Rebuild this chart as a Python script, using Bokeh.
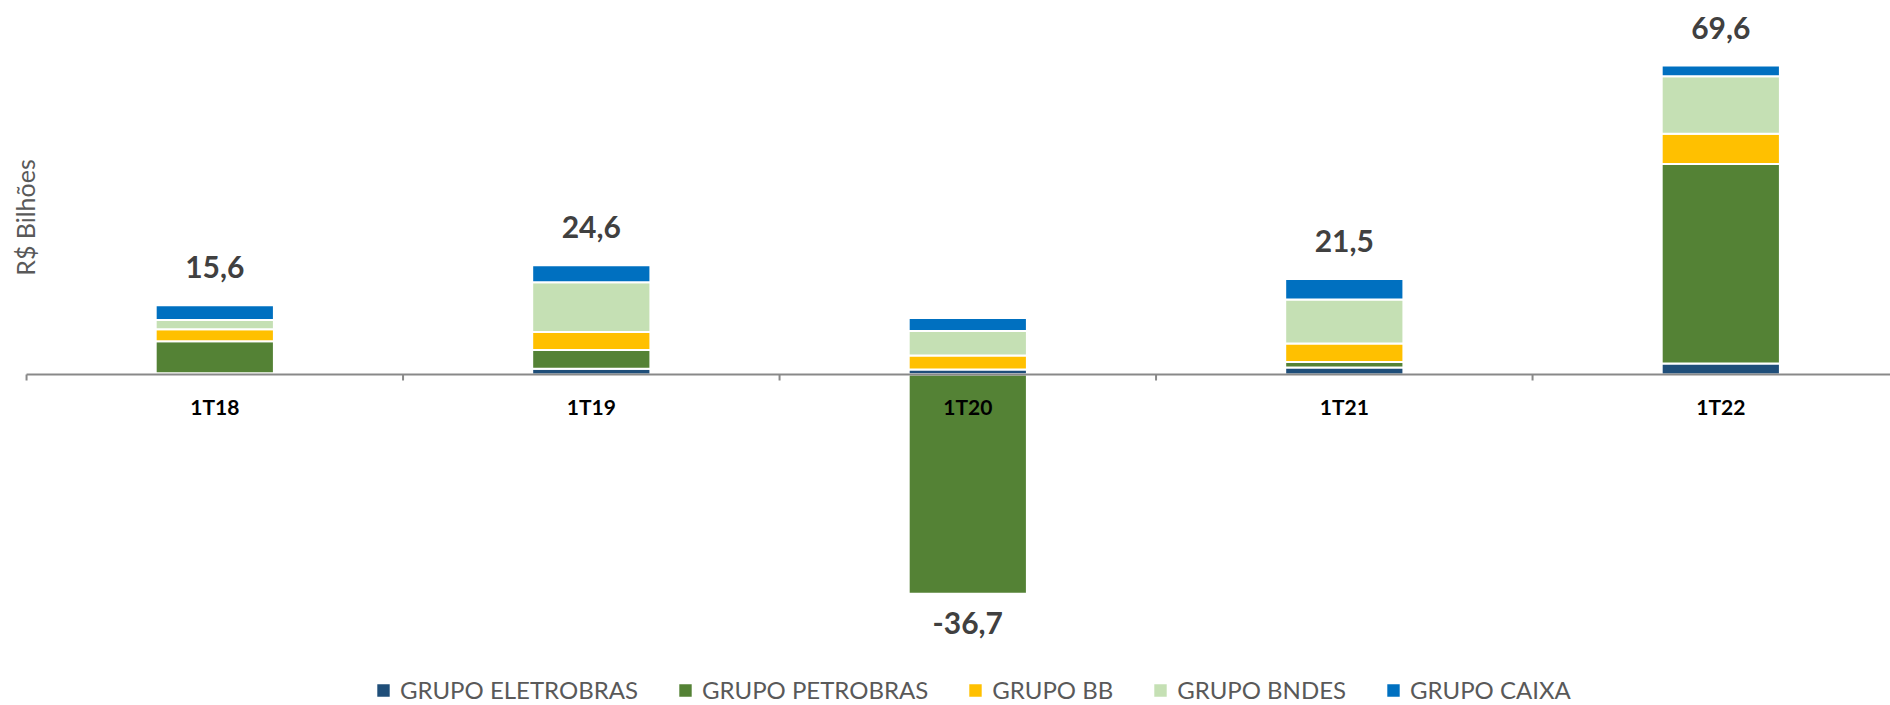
import math
from bokeh.plotting import figure
from bokeh.models import Range1d, ColumnDataSource, Legend, LegendItem
from bokeh.core.properties import value
from bokeh.embed import file_html
from bokeh.resources import INLINE

# ---------------- data ----------------
categories = ["1T18", "1T19", "1T20", "1T21", "1T22"]
series_names = ["GRUPO ELETROBRAS", "GRUPO PETROBRAS", "GRUPO BB", "GRUPO BNDES", "GRUPO CAIXA"]
eletrobras = [0.3, 1.3, 1.1, 1.6, 2.5]
petrobras = [7.2, 4.2, -49.4, 1.2, 44.9]
bb = [2.7, 4.1, 3.2, 4.2, 6.8]
bndes = [2.1, 11.2, 5.5, 9.9, 13.0]
caixa = [3.3, 3.8, 2.9, 4.6, 2.4]
totals = [15.6, 24.6, -36.7, 21.5, 69.6]
y_title = "R$ Bilhões"

colors = ["#1F4E79", "#548235", "#FFC000", "#C5E0B4", "#0070C0"]

# ---------------- layout ----------------
W, H = 1890, 705
px_per_unit_y = 309 / 69.6
zero_canvas_y = 374
px_per_cat = 376.5
first_center_canvas_x = 214.3

x0 = -first_center_canvas_x / px_per_cat
x1 = x0 + W / px_per_cat
y1 = zero_canvas_y / px_per_unit_y
y0 = -(H - zero_canvas_y) / px_per_unit_y

p = figure(width=W, height=H, x_range=Range1d(x0, x1), y_range=Range1d(y0, y1),
           output_backend="svg", toolbar_location=None, min_border=0,
           outline_line_color=None, x_axis_type=None, y_axis_type=None,
           background_fill_color="white", border_fill_color="white")

n = len(categories)
xs = list(range(n))
pos_base = [0.0] * n
neg_base = [0.0] * n
renderers = []
for name, vals, col in zip(series_names, [eletrobras, petrobras, bb, bndes, caixa], colors):
    bottoms, tops = [], []
    for i, v in enumerate(vals):
        if v >= 0:
            bottoms.append(pos_base[i]); tops.append(pos_base[i] + v); pos_base[i] += v
        else:
            bottoms.append(neg_base[i]); tops.append(neg_base[i] + v); neg_base[i] += v
    src = ColumnDataSource(dict(x=xs, bottom=bottoms, top=tops))
    r = p.vbar(x="x", bottom="bottom", top="top", width=0.314, source=src,
               fill_color=col, line_color="white", line_width=2)
    renderers.append(r)

# axis line and tick marks
p.segment(x0=[-0.5], y0=[0], x1=[x1], y1=[0], line_color="#898989", line_width=2)
tick_len = 6 / px_per_unit_y
bounds = [i - 0.5 for i in range(n + 1)]
p.segment(x0=bounds, y0=[0] * len(bounds), x1=bounds, y1=[-tick_len] * len(bounds),
          line_color="#898989", line_width=2)

# category labels
p.text(x=xs, y=[0] * n, text=categories, text_align="center", text_baseline="middle",
       y_offset=31.5, text_font=value("Lato"), text_font_style="bold",
       text_font_size="21px", text_color="#000000")

# total labels
lab_y, lab_off, lab_txt = [], [], []
for i, t in enumerate(totals):
    lab_txt.append(f"{t:.1f}".replace(".", ","))
    if t >= 0:
        lab_y.append(pos_base[i]); lab_off.append(-38)
    else:
        lab_y.append(neg_base[i]); lab_off.append(29)
p.text(x=xs, y=lab_y, y_offset=lab_off, text=lab_txt, text_align="center",
       text_baseline="middle", text_font=value("Lato"), text_font_style="bold",
       text_font_size="30px", text_color="#404040")

# y title
p.text(x=[x0 + 24 / px_per_cat], y=[(zero_canvas_y - 217) / px_per_unit_y], text=[y_title],
       angle=math.pi / 2, text_align="center", text_baseline="middle",
       text_font=value("Lato"), text_font_size="25px", text_color="#595959")

legend = Legend(items=[LegendItem(label=nm, renderers=[r]) for nm, r in zip(series_names, renderers)],
                orientation="horizontal", location=(374, 1), padding=0, margin=0,
                spacing=38, label_standoff=8, glyph_width=18, glyph_height=18,
                border_line_color=None, background_fill_alpha=0,
                label_text_font="Lato", label_text_font_size="24px",
                label_text_color="#595959")
p.add_layout(legend)

open("out.html", "w").write(file_html(p, INLINE))
